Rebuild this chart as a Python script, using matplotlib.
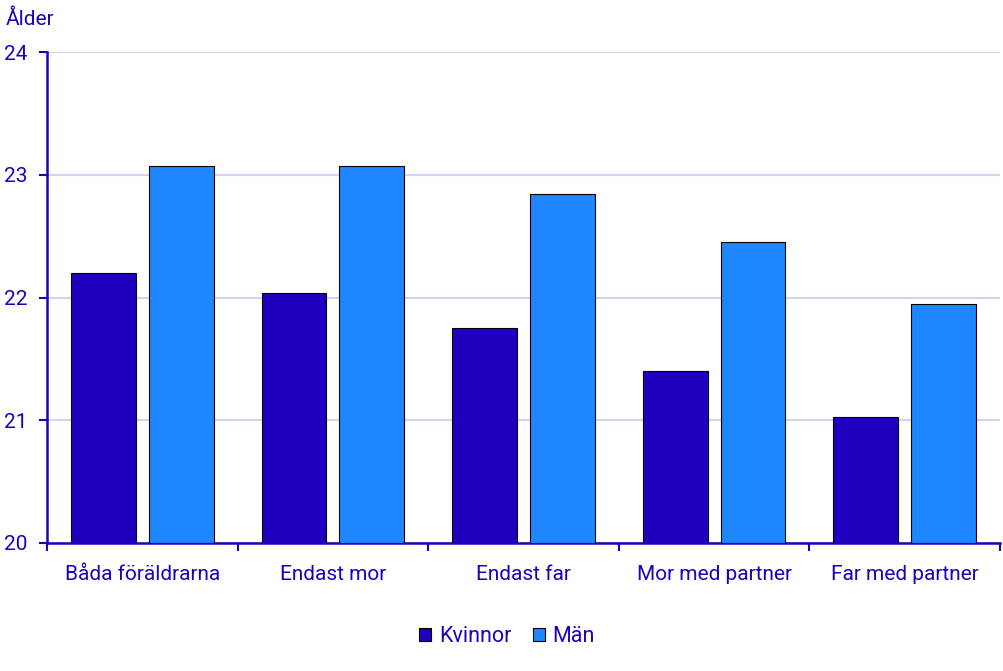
import matplotlib.pyplot as plt
import numpy as np

plt.rcParams['font.family'] = ['Roboto', 'DejaVu Sans']

# data
categories = ["Båda föräldrarna", "Endast mor", "Endast far", "Mor med partner", "Far med partner"]
kvinnor = [22.20, 22.04, 21.75, 21.40, 21.03]
man = [23.07, 23.07, 22.84, 22.45, 21.95]

text_col = "#1E00BE"
dark = "#1E00BE"
light = "#1E87FF"
grid_col = "#D3D3EF"

fig = plt.figure(figsize=(10.04, 6.71), dpi=100)
ax = fig.add_axes([47 / 1004, 1 - 543 / 671, (1000 - 47) / 1004, (543 - 52) / 671])

x = np.arange(len(categories))
w = 0.34
off = 0.204
ax.bar(x - off, np.array(kvinnor) - 20, w, bottom=20, color=dark, edgecolor="black", linewidth=0.8, label="Kvinnor", zorder=3)
ax.bar(x + off, np.array(man) - 20, w, bottom=20, color=light, edgecolor="black", linewidth=0.8, label="Män", zorder=3)

ax.set_ylim(20, 24)
ax.set_xlim(-0.5, len(categories) - 0.5)
ax.set_yticks([20, 21, 22, 23, 24])
ax.yaxis.grid(True, color=grid_col, linewidth=1.5, zorder=0)
ax.set_axisbelow(True)

# category boundaries as x ticks, labels as minor ticks
ax.set_xticks(np.arange(-0.5, len(categories) + 0.5, 1))
ax.set_xticklabels([])
ax.set_xticks(x, minor=True)
ax.set_xticklabels(categories, minor=True)
ax.tick_params(axis="x", which="major", direction="out", length=6, width=1.5, color=text_col)
ax.tick_params(axis="x", which="minor", length=0, pad=16, labelsize=15, labelcolor=text_col)
ax.tick_params(axis="y", direction="out", length=6, width=1.5, color=text_col, labelsize=15, labelcolor=text_col, pad=8)

for s in ["top", "right"]:
    ax.spines[s].set_visible(False)
for s in ["left", "bottom"]:
    ax.spines[s].set_color(text_col)
    ax.spines[s].set_linewidth(1.8)

fig.text(6 / 1004, 1 - 19 / 671, "Ålder", color=text_col, fontsize=15, va="center", ha="left")

leg = fig.legend(loc="center", bbox_to_anchor=(507 / 1004, 1 - 637 / 671), ncol=2, frameon=False,
                 fontsize=15.5, handlelength=0.55, handleheight=0.55, handletextpad=0.35, columnspacing=1.0)
for t in leg.get_texts():
    t.set_color(text_col)

fig.savefig("out.png", dpi=100)
